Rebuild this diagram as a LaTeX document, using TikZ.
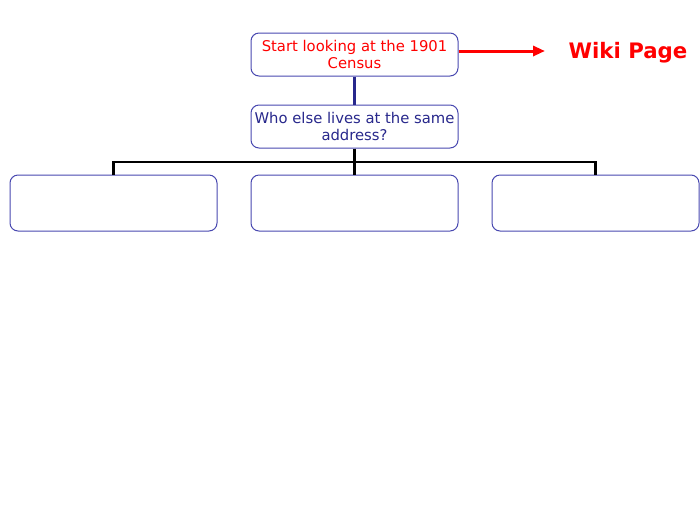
\documentclass[tikz,border=0pt]{standalone}
\usepackage{fontspec}
\setmainfont{DejaVu Sans}
\usetikzlibrary{arrows.meta}
\definecolor{boxline}{RGB}{72,72,176}
\definecolor{navy}{RGB}{40,40,140}
\definecolor{wikired}{RGB}{255,0,0}
\tikzset{
  box/.style={draw=boxline, line width=1pt, rounded corners=8pt, fill=white,
    minimum width=207pt, minimum height=43pt, align=center, inner sep=1pt,
    font=\fontsize{14.8}{17.5}\selectfont},
  leaf/.style={box, minimum height=56pt},
  tree/.style={line width=2.6pt, black}
}
\begin{document}
\begin{tikzpicture}[x=1pt, y=-1pt]
    \useasboundingbox (0,0) rectangle (700,531);

    % Boîtes du haut
    \node[box, text=wikired] (census) at (354.5,54.5) {Start looking at the 1901\\Census};
    \node[box, text=navy] (address) at (354.5,126.5) {Who else lives at the same\\address?};

    % Lien vers la page wiki
    \node[font=\bfseries\fontsize{21.3}{24}\selectfont, text=wikired] (wiki) at (628,53) {Wiki Page};
    \coordinate (tip) at (545,51);
    \draw[-{Triangle[length=12pt, width=10pt]}, line width=3pt, wikired] (census.east |- tip) -- (tip);

    % Boîtes du bas
    \node[leaf] (left) at (113.5,203) {};
    \node[leaf] (middle) at (354.5,203) {};
    \node[leaf] (right) at (595.5,203) {};

    % Connecteurs
    \draw[line width=2.6pt, navy] (census.south) -- (address.north);
    \coordinate (bar) at (354.5,162);
    \draw[tree] (address.south) -- (middle.north);
    \draw[tree] (left.north) -- (left.north |- bar) -- (right.north |- bar) -- (right.north);
\end{tikzpicture}
\end{document}
